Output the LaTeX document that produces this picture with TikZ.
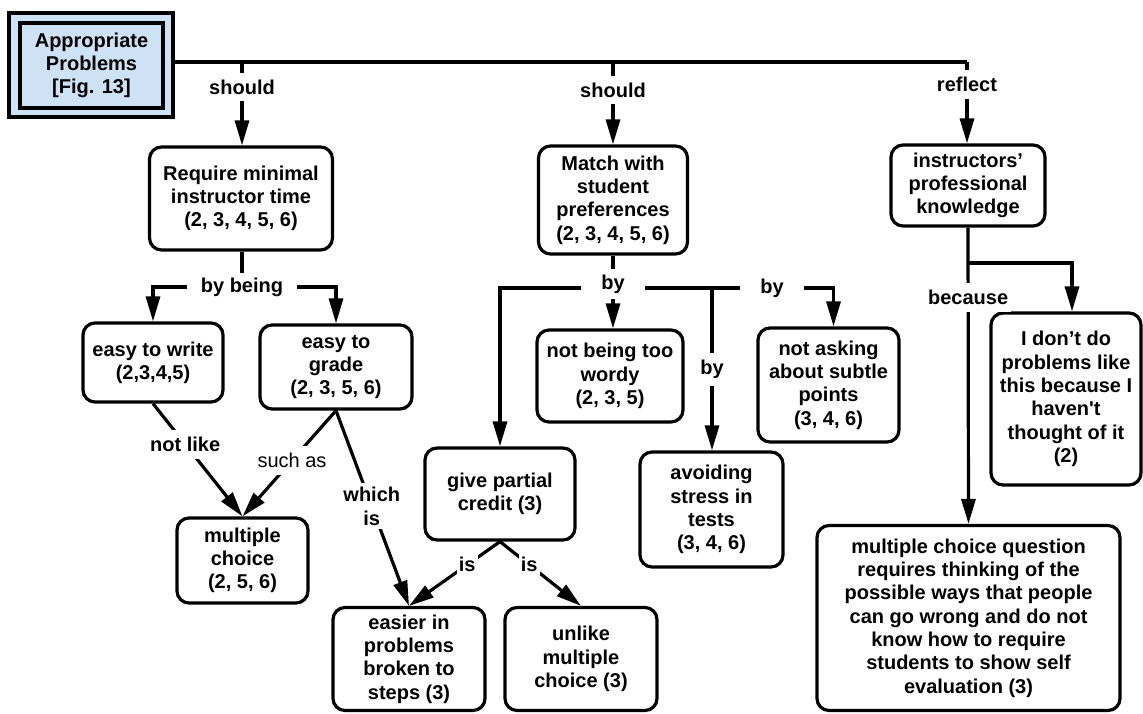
\documentclass[tikz,border=0pt]{standalone}
\usepackage{fontspec}
\setmainfont{Liberation Sans}
\usetikzlibrary{arrows.meta}
\definecolor{rootblue}{RGB}{205,226,245}

\begin{document}
\begin{tikzpicture}[x=1pt,y=-1pt,
  txt/.style={font=\bfseries\fontsize{20}{23.3}\selectfont},
  concept/.style={txt, draw, line width=3.2pt, rounded corners=12pt, align=center, inner sep=0pt},
  lbl/.style={txt, fill=white, align=center, inner xsep=6pt, inner ysep=7pt},
  link/.style={line width=3.2pt},
  arr/.style={link, -{Triangle[length=25pt,width=14pt]}},
]
\useasboundingbox (0,0) rectangle (1143,714);

% root concept: double frame on light blue
\node[draw, fill=rootblue, line width=3.4pt, minimum width=164pt, minimum height=104pt] (root) at (91,65) {};
\node[txt, draw, fill=rootblue, line width=4pt, align=center, minimum width=143pt, minimum height=85pt, inner sep=0pt] (rootin) at (91.5,65.5)
  {Appropriate\\Problems\\\relax[Fig. 13]};

% concepts
\node[concept, minimum width=183pt, minimum height=103pt] (req) at (241,198.5) {Require minimal\\instructor time\\(2, 3, 4, 5, 6)};
\node[concept, minimum width=149pt, minimum height=108pt] (match) at (613,200) {Match with\\student\\preferences\\(2, 3, 4, 5, 6)};
\node[concept, minimum width=154pt, minimum height=81pt] (instr) at (968,185.5) {instructors’\\professional\\knowledge};

\node[concept, minimum width=140pt, minimum height=79pt] (write) at (153,362.5) {easy to write\\(2,3,4,5)};
\node[concept, minimum width=152pt, minimum height=84pt] (grade) at (336,367) {easy to\\grade\\(2, 3, 5, 6)};
\node[concept, minimum width=131pt, minimum height=85pt] (mc) at (242.5,560.5) {multiple\\choice\\(2, 5, 6)};

\node[concept, minimum width=150pt, minimum height=92pt] (partial) at (500,494) {give partial\\credit (3)};
\node[concept, minimum width=152pt, minimum height=103pt] (easier) at (409,659) {easier in\\problems\\broken to\\steps (3)};
\node[concept, minimum width=152pt, minimum height=103pt] (unlike) at (581,659) {unlike\\multiple\\choice (3)};

\node[concept, minimum width=146pt, minimum height=92pt] (wordy) at (610,376) {not being too\\wordy\\(2, 3, 5)};
\node[concept, minimum width=143pt, minimum height=115pt] (stress) at (711.5,509.5) {avoiding\\stress in\\tests\\(3, 4, 6)};
\node[concept, minimum width=141pt, minimum height=114pt] (subtle) at (828.5,385) {not asking\\about subtle\\points\\(3, 4, 6)};

\node[concept, minimum width=150pt, minimum height=172pt] (dont) at (1066,399) {I don’t do\\problems like\\this because I\\haven\textquotesingle t\\thought of it\\(2)};
\node[concept, minimum width=303pt, minimum height=185pt] (mcq) at (968.5,618) {multiple choice question\\requires thinking of the\\possible ways that people\\can go wrong and do not\\know how to  require\\students to show self\\evaluation (3)};

% top bar from the root
\coordinate (t1) at (242,62);
\coordinate (t2) at (613,62);
\coordinate (t3) at (967,62);
\draw[link] (root.east |- t3) -- (t3);
\draw[arr] (t1) -- (t1 |- req.north) node[lbl, pos=0.3] {should};
\draw[arr] (t2) -- (t2 |- match.north) node[lbl, pos=0.34] {should};
\draw[arr] (t3) -- (t3 |- instr.north) node[lbl, pos=0.28] {reflect};

% minimal instructor time
\coordinate (bb) at (242,287);
\draw[link] (req.south -| bb) -- (bb);
\draw[arr] (bb) -| (write.north);
\draw[arr] (bb) -| (grade.north);
\node[lbl, inner xsep=14pt, inner ysep=5pt] (bbl) at (bb) {by being};

\draw[arr] (write.south) -- (mc.north) node[lbl, pos=0.36] {not like};
\draw[arr] (grade.south) -- (mc.north) node[lbl, pos=0.47, font=\fontsize{20}{23.3}\selectfont] {such as};
\draw[arr] (grade.south) -- (easier.north) node[lbl, pos=0.49, inner ysep=4pt] {which\\is};

% student preferences
\coordinate (mb) at (613,288);
\draw[link] (match.south) -- (mb);
\draw[arr] (mb) -| (partial.north);
\draw[arr] (mb) -- (mb |- wordy.north);
\draw[arr] (mb) -| ([xshift=5pt]subtle.north);
\node[lbl, inner xsep=20pt, inner ysep=6pt] (mbl) at (613,284) {by};
\node[lbl, inner xsep=20pt, inner ysep=4pt] (byr) at (772,288) {by};
\coordinate (sb) at (712,288);
\draw[arr] (sb) -- (sb |- stress.north) node[lbl, pos=0.5, inner xsep=3pt] {by};

\draw[arr] (partial.south) -- (easier.north) node[lbl, pos=0.36, inner xsep=2pt, inner ysep=4pt] {is};
\draw[arr] (partial.south) -- (unlike.north) node[lbl, pos=0.36, inner xsep=2pt, inner ysep=4pt] {is};

% professional knowledge
\coordinate (ib) at (968,263);
\draw[arr] (instr.south) -- (mcq.north) node[lbl, pos=0.235, inner xsep=3pt] {because};
\draw[arr] (ib) -| ([xshift=6pt]dont.north);
\end{tikzpicture}
\end{document}
